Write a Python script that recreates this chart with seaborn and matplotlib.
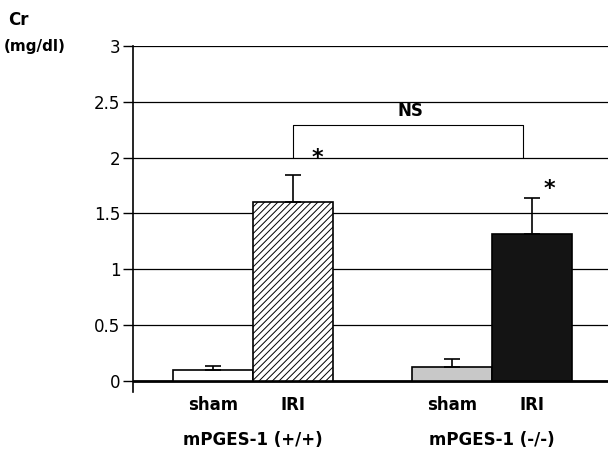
import numpy as np
import pandas as pd
import matplotlib
matplotlib.use("Agg")
import matplotlib.pyplot as plt
import seaborn as sns

# data
groups = ["sham", "IRI", "sham", "IRI"]
positions = [0, 1, 3, 4]
cr_mean = [0.10, 1.60, 0.12, 1.32]
cr_err = [0.03, 0.24, 0.08, 0.32]
genotype_labels = ["mPGES-1 (+/+)", "mPGES-1 (-/-)"]
yticks = [0, 0.5, 1, 1.5, 2, 2.5, 3]

df = pd.DataFrame({"pos": positions, "cr": cr_mean, "grp": groups})

sns.set_style("white")
plt.rcParams["font.family"] = ["DejaVu Sans"]
plt.rcParams["text.color"] = "black"
plt.rcParams["ytick.color"] = "black"
plt.rcParams["hatch.linewidth"] = 0.7

fig = plt.figure(figsize=(6.08, 4.54), dpi=100)
ax = fig.add_axes([133 / 608, (454 - 392) / 454, 1 - 133 / 608, (392 - 46) / 454])

# grid lines behind bars
for t in yticks:
    ax.axhline(t, color="black", lw=2.0 if t == 0 else 0.9, zorder=0)

sns.barplot(data=df, x="pos", y="cr", native_scale=True, width=1.0,
            errorbar=None, ax=ax, zorder=2)

faces = ["white", "white", "#c8c8c8", "#141414"]
for bar, fc, i in zip(ax.patches, faces, range(4)):
    bar.set_facecolor(fc)
    bar.set_edgecolor("black")
    bar.set_linewidth(1.2)
    if i == 1:
        bar.set_hatch("/////")

ax.errorbar(positions, cr_mean, yerr=[np.zeros(4), cr_err], fmt="none",
            ecolor="black", elinewidth=1.2, capsize=6, capthick=1.2, zorder=3)

ax.set_xlim(-1.0, 4.95)
ax.set_ylim(-0.1, 3.0)
ax.set_yticks(yticks)
ax.set_yticklabels(["0", "0.5", "1", "1.5", "2", "2.5", "3"], fontsize=12)
ax.tick_params(axis="y", direction="out", length=7, width=1, pad=2, left=True,
               labelcolor="black")
ax.set_xticks([])
ax.set_xlabel("")
ax.set_ylabel("")
for s in ["top", "right", "bottom"]:
    ax.spines[s].set_visible(False)
ax.spines["left"].set_linewidth(1.2)
ax.spines["left"].set_color("black")

# category labels under the bars
for p, g in zip(positions, groups):
    ax.text(p, -0.22, g, ha="center", va="center", fontsize=12,
            fontweight="bold", clip_on=False)
for p, lab in zip([0.5, 3.5], genotype_labels):
    ax.text(p, -0.53, lab, ha="center", va="center", fontsize=12,
            fontweight="bold", clip_on=False)

# NS bracket and asterisks
ax.plot([1.0, 1.0, 3.88, 3.88], [2.0, 2.29, 2.29, 2.0], color="black", lw=0.8, zorder=4)
ax.text(2.47, 2.42, "NS", ha="center", va="center", fontsize=12, fontweight="bold")
ax.text(1.31, 2.0, "*", ha="center", va="center", fontsize=16, fontweight="bold")
ax.text(4.22, 1.72, "*", ha="center", va="center", fontsize=16, fontweight="bold")

fig.text(8 / 608, 1 - 20 / 454, "Cr", fontsize=12, fontweight="bold", va="center")
fig.text(4 / 608, 1 - 46 / 454, "(mg/dl)", fontsize=11, fontweight="bold", va="center")

fig.savefig("out.png", dpi=100)
